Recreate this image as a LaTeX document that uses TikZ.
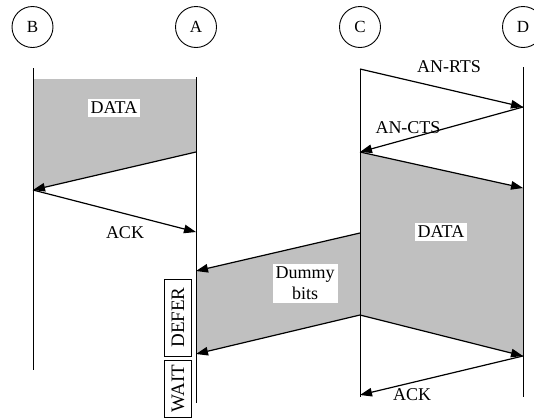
\documentclass[tikz,border=0pt]{standalone}
\usepackage{fontspec}
\setmainfont{Liberation Serif}
\usetikzlibrary{arrows.meta}
\definecolor{pktgray}{RGB}{192,192,192}
\begin{document}
\begin{tikzpicture}[x=1pt,y=-1pt,
  station/.style={circle,draw,line width=0.9pt,minimum size=41pt,inner sep=0pt,font=\fontsize{17}{19}\selectfont},
  life/.style={line width=0.9pt},
  msg/.style={line width=1.2pt,-{Triangle[length=12pt,width=8.5pt]}},
  lbl/.style={font=\fontsize{18}{20}\selectfont,inner sep=1pt},
  tag/.style={lbl,fill=white,inner sep=3pt},
  statebox/.style={draw,line width=0.9pt,rotate=90,minimum height=27pt,inner sep=0pt,font=\fontsize{19}{20}\selectfont}]
\useasboundingbox (0,0) rectangle (534,418);

% stations
\node[station] (B) at (32.5,27) {B};
\node[station] (A) at (196,27) {A};
\node[station] (C) at (360,27) {C};
\node[station] (D) at (523,27) {D};

% lifeline end points
\coordinate (Bt) at (33,68);  \coordinate (Bb) at (33,370);
\coordinate (At) at (196,77); \coordinate (Ab) at (196,403);
\coordinate (Ct) at (360,69); \coordinate (Cb) at (360,397);
\coordinate (Dt) at (523,67); \coordinate (Db) at (523,397);

% exchange points on the lifelines
\coordinate (b0) at (33,79);   \coordinate (a0) at (196,79);
\coordinate (a1) at (196,152); \coordinate (b1) at (33,190);
\coordinate (a2) at (196,232);
\coordinate (a3) at (196,271); \coordinate (a4) at (196,354);
\coordinate (d1) at (523,107); \coordinate (c1) at (360,152);
\coordinate (d2) at (523,188); \coordinate (c4) at (360,233);
\coordinate (c2) at (360,315); \coordinate (d3) at (523,356);
\coordinate (c3) at (360,395);

% shaded transmissions
\fill[pktgray] (b0) -- (a0) -- (a1) -- (b1) -- cycle;
\fill[pktgray] (c1) -- (d2) -- (d3) -- (c2) -- cycle;
\fill[pktgray] (c4) -- (a3) -- (a4) -- (c2) -- cycle;

% lifelines
\draw[life] (Bt) -- (Bb);
\draw[life] (At) -- (Ab);
\draw[life] (Ct) -- (Cb);
\draw[life] (Dt) -- (Db);

% labels
\node[tag] (ldata1) at (114,108) {DATA};
\node[tag] (ldata2) at (441,232) {DATA};
\node[tag,align=center,font=\fontsize{18}{21}\selectfont] (ldummy) at (305,283.5) {Dummy\\bits};
\node[lbl] (lack1) at (125,233) {ACK};
\node[lbl] (lrts) at (449,67) {AN-RTS};
\node[lbl] (lcts) at (408,128) {AN-CTS};
\node[lbl] (lack2) at (412,395) {ACK};

% messages
\draw[msg] (a1) -- (b1);
\draw[msg] (b1) -- (a2);
\draw[msg] (Ct) -- (d1);
\draw[msg] (d1) -- (c1);
\draw[msg] (c1) -- (d2);
\draw[msg] (c2) -- (d3);
\draw[msg] (d3) -- (c3);
\draw[msg] (c4) -- (a3);
\draw[msg] (c2) -- (a4);

% node states at A
\node[statebox,minimum width=77pt] (defer) at (178,317.5) {DEFER};
\node[statebox,minimum width=57pt] (wait) at (178,388.5) {WAIT};
\end{tikzpicture}
\end{document}
